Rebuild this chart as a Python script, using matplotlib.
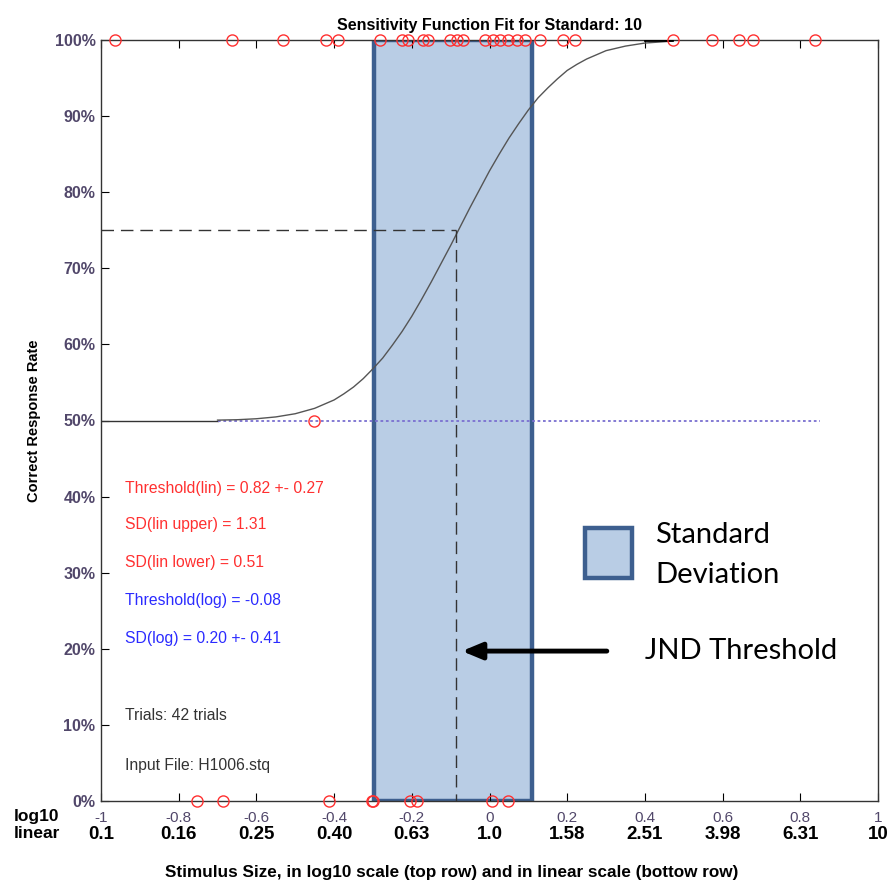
import numpy as np
import matplotlib.pyplot as plt
from matplotlib.patches import Rectangle

# log10 stimulus positions of the trials
correct_x = [-0.964, -0.663, -0.532, -0.421, -0.39, -0.282, -0.225, -0.21, -0.171,
             -0.158, -0.102, -0.084, -0.068, -0.012, 0.009, 0.027, 0.048, 0.071,
             0.091, 0.13, 0.189, 0.22, 0.472, 0.573, 0.642, 0.678, 0.838]
wrong_x = [-0.753, -0.686, -0.413, -0.302, -0.30, -0.205, -0.187, 0.006, 0.048]
mid_x = [-0.452]

# fitted sensitivity curve (log10 x, % correct)
curve_x = [-0.70, -0.65, -0.60, -0.55, -0.50, -0.45, -0.40, -0.375, -0.35, -0.325,
           -0.30, -0.275, -0.25, -0.225, -0.20, -0.175, -0.15, -0.125, -0.10, -0.075,
           -0.05, -0.025, 0.00, 0.025, 0.05, 0.075, 0.10, 0.125, 0.15, 0.175,
           0.20, 0.225, 0.25, 0.30, 0.35, 0.40, 0.47]
curve_y = [50.05, 50.1, 50.23, 50.47, 50.89, 51.6, 52.7, 53.5, 54.4, 55.5,
           56.8, 58.2, 59.9, 61.7, 63.7, 65.9, 68.2, 70.6, 73.0, 75.5,
           78.0, 80.4, 82.8, 85.0, 87.1, 89.0, 90.8, 92.4, 93.7, 94.9,
           96.0, 96.8, 97.5, 98.6, 99.2, 99.6, 99.85]

threshold_log = -0.086
sd_low, sd_high = -0.297, 0.109

log_ticks = [-1, -0.8, -0.6, -0.4, -0.2, 0, 0.2, 0.4, 0.6, 0.8, 1]
log_labels = ['-1', '-0.8', '-0.6', '-0.4', '-0.2', '0', '0.2', '0.4', '0.6', '0.8', '1']
lin_labels = ['0.1', '0.16', '0.25', '0.40', '0.63', '1.0', '1.58', '2.51', '3.98', '6.31', '10']
y_ticks = [0, 10, 20, 30, 40, 50, 60, 70, 80, 90, 100]

red_notes = ['Threshold(lin) = 0.82 +- 0.27', 'SD(lin upper) = 1.31', 'SD(lin lower) = 0.51']
blue_notes = ['Threshold(log) = -0.08', 'SD(log) = 0.20 +- 0.41']
black_notes = ['Trials: 42 trials', 'Input File: H1006.stq']

plt.rcParams['font.family'] = ['Liberation Sans', 'DejaVu Sans']
tick_col = '#51476a'
calibri = ['Lato', 'DejaVu Sans']

fig = plt.figure(figsize=(8.9, 8.84), dpi=100)
ax = fig.add_axes([101 / 890, 83 / 884, 777 / 890, 761 / 884])
ax.set_xlim(-1, 1)
ax.set_ylim(0, 100)

# standard deviation box
ax.add_patch(Rectangle((sd_low, 0), sd_high - sd_low, 100, facecolor='#b9cde5',
                       edgecolor='#3d5f8f', linewidth=3.2, zorder=1))

# 50% baseline
ax.plot([-1, -0.70], [50, 50], color='#333333', lw=1, zorder=2)
ax.plot([-0.70, 0.85], [50, 50], color='#7a6fd0', lw=1.3, ls=(0, (1.5, 1.5)), zorder=2)

# fitted curve
ax.plot(curve_x, curve_y, color='#555555', lw=1, zorder=3)
ax.plot([0.40, 0.47], [100, 100], color='black', lw=2, zorder=3)

# threshold dashed lines
ax.plot([-1, threshold_log], [75, 75], color='#333333', lw=1, ls=(0, (9, 5)), zorder=3)
ax.plot([threshold_log, threshold_log], [75, 0], color='#333333', lw=1, ls=(0, (9, 5)), zorder=3)

# trial responses
for xs, yv in [(correct_x, 100), (wrong_x, 0), (mid_x, 50)]:
    ax.plot(xs, [yv] * len(xs), 'o', mfc='none', mec='#ff3030', ms=8, mew=1,
            clip_on=False, zorder=4)

# axes style
for s in ax.spines.values():
    s.set_color('#333333')
    s.set_linewidth(1)
ax.set_xticks(log_ticks)
ax.set_xticklabels(log_labels, color=tick_col, fontsize=11)
ax.set_yticks(y_ticks)
ax.set_yticklabels([f'{v}%' for v in y_ticks], color=tick_col, fontsize=11.5, fontweight='bold')
ax.tick_params(axis='x', direction='in', length=6, top=True, pad=7)
ax.tick_params(axis='y', direction='in', length=6, pad=4)

# linear row of tick labels
for xv, lab in zip(log_ticks, lin_labels):
    ax.text(xv, -0.044, lab, transform=ax.get_xaxis_transform(), ha='center', va='center',
            fontsize=13.5, fontweight='bold', color='black')
fig.text(14 / 890, 1 - 817 / 884, 'log10', fontsize=12.5, fontweight='bold', va='center')
fig.text(14 / 890, 1 - 833 / 884, 'linear', fontsize=12.5, fontweight='bold', va='center')

ax.set_title('Sensitivity Function Fit for Standard: 10', fontsize=11.5, fontweight='bold', pad=7)
ax.set_ylabel('Correct Response Rate', fontsize=10.5, fontweight='bold', labelpad=10)
fig.text(452 / 890, 1 - 872 / 884, 'Stimulus Size, in log10 scale (top row) and in linear scale (bottow row)',
         ha='center', va='center', fontsize=12.3, fontweight='bold')

# notes
note_y = [41.1, 36.3, 31.4, 26.4, 21.4, 11.2, 4.7]
notes = red_notes + blue_notes + black_notes
cols = ['#ff3030'] * 3 + ['#2b2bff'] * 2 + ['#333333'] * 2
for yv, t, c in zip(note_y, notes, cols):
    ax.text(-0.938, yv, t, color=c, fontsize=11.3, va='center', zorder=5)

# legend-like annotation
ax.add_patch(Rectangle((0.246, 29.3), 0.121, 6.6, facecolor='#b9cde5', edgecolor='#3d5f8f',
                       linewidth=3.2, zorder=5))
ax.text(0.426, 35.0, 'Standard', family=calibri, fontsize=21, va='center', zorder=5)
ax.text(0.426, 29.7, 'Deviation', family=calibri, fontsize=21, va='center', zorder=5)
ax.annotate('', xy=(-0.071, 19.7), xytext=(0.302, 19.7),
            arrowprops=dict(arrowstyle='-|>,head_length=1.2,head_width=0.5', lw=3.5,
                            color='black', shrinkA=0, shrinkB=0), zorder=5)
ax.text(0.40, 19.7, 'JND Threshold', family=calibri, fontsize=21, va='center', zorder=5)

fig.savefig('out.png', dpi=100)
